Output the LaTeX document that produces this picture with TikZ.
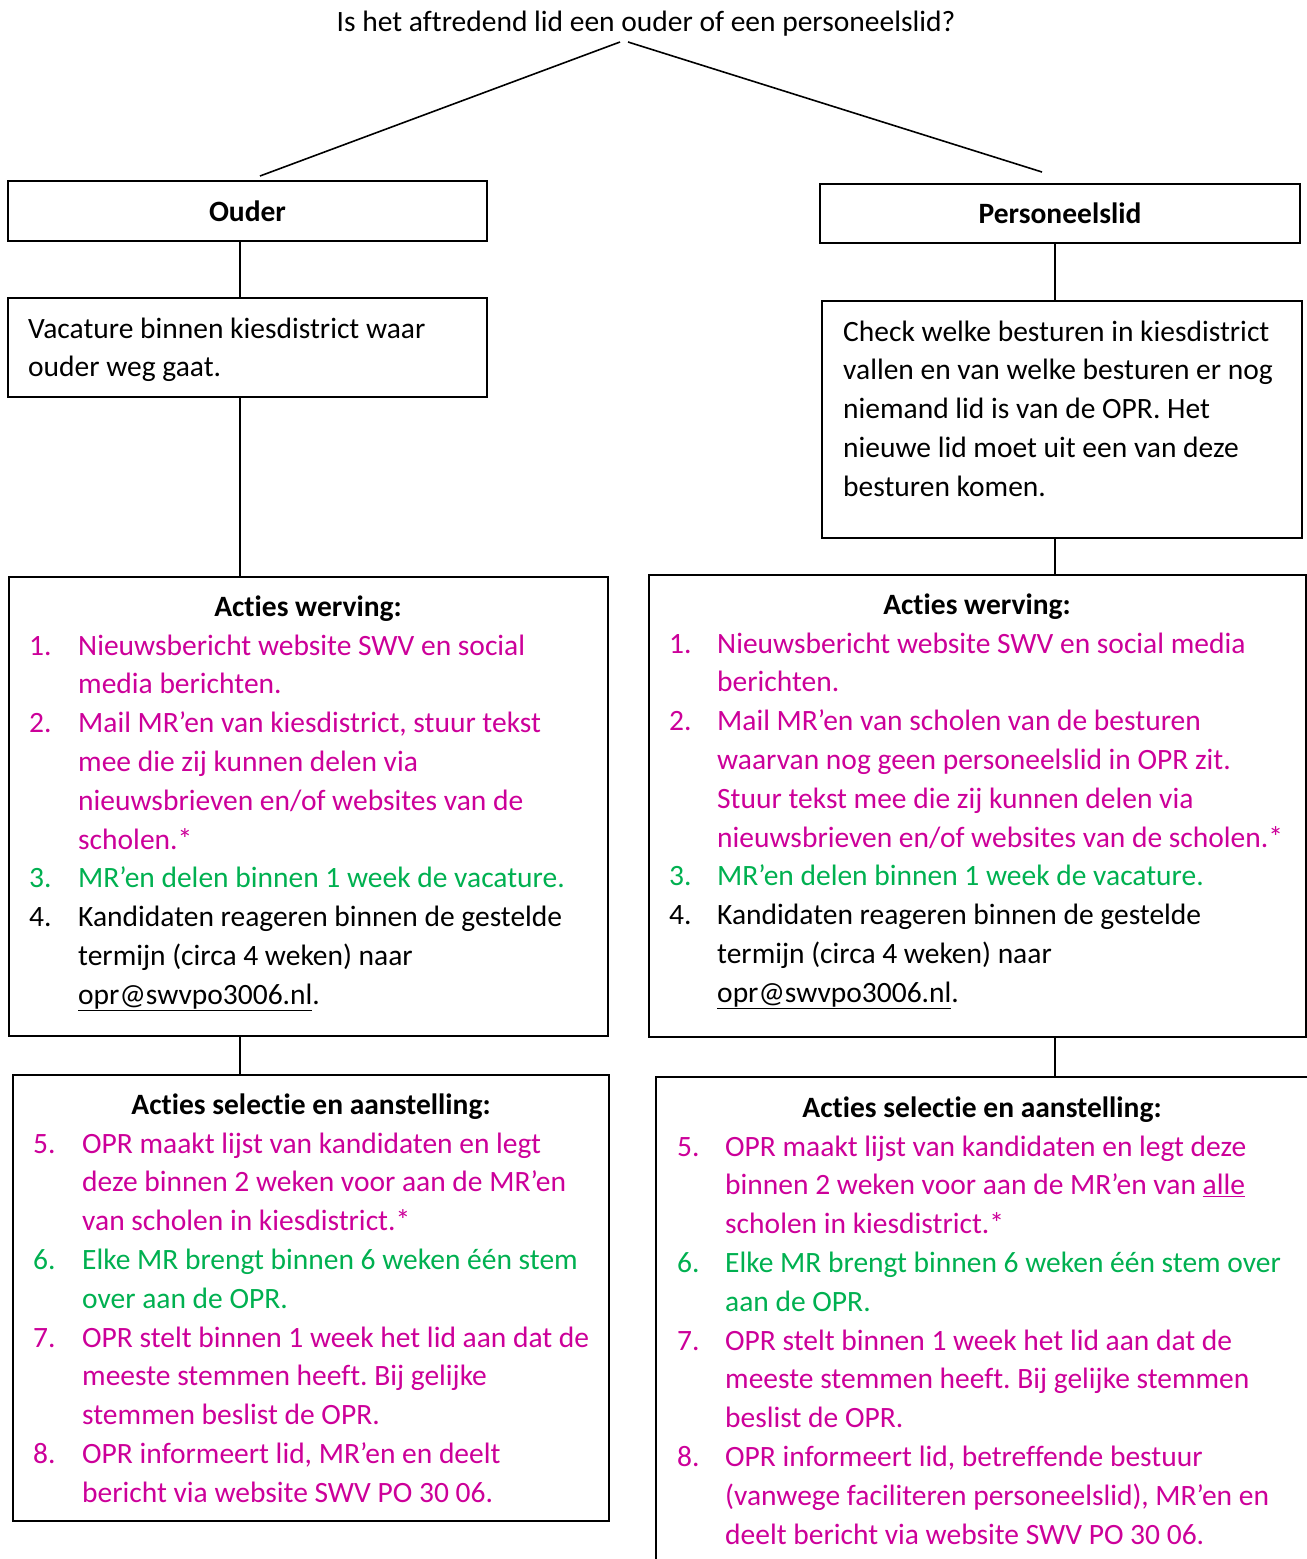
\documentclass[tikz,border=0pt]{standalone}
\usepackage{fontspec}
\setmainfont{Carlito}[Ligatures=CommonOff]
\frenchspacing
\definecolor{pinkc}{RGB}{204,0,153}
\definecolor{greenc}{RGB}{0,176,80}
\tikzset{
  box/.style={draw=black,line width=2pt,inner sep=0pt,minimum width=#1},
  txt/.style={anchor=base west,inner sep=0pt,font=\fontsize{29.5}{38.8}\selectfont},
  head/.style={anchor=base,inner sep=0pt,font=\fontsize{29.5}{38.8}\selectfont\bfseries},
  conn/.style={draw=black,line width=1.6pt}
}
\newcommand\mylines[5]{%
  \foreach \t [count=\i from 0] in {#5}{\node[txt,text=#2] (#1-\i) at (#3,{#4+\i*38.8}) {\frenchspacing\t};}}
\begin{document}
\begin{tikzpicture}[x=1pt,y=-1pt]
\useasboundingbox (0,0) rectangle (1307,1559);
\clip (0,0) rectangle (1307,1559);
% title
\node[anchor=base,inner sep=0pt,font=\fontsize{29.5}{38.8}\selectfont] (title) at (646,31) {Is het aftredend lid een ouder of een personeelslid?};
\coordinate (qL) at (620,42);
\coordinate (qR) at (628,42);
\coordinate (eL) at (260,176);
\coordinate (eR) at (1042,172);
\coordinate (xL) at (240,0);
\coordinate (xR) at (1055,0);
% boxes
\node[box=479pt,minimum height=60pt] (ouder) at (247.5,211) {};
\node[box=480pt,minimum height=59pt] (pers) at (1060,213.5) {};
\node[box=479pt,minimum height=99pt] (vac) at (247.5,347.5) {};
\node[box=480pt,minimum height=237pt] (check) at (1062,419.5) {};
\node[box=599pt,minimum height=459pt] (wervL) at (308.5,806.5) {};
\node[box=657pt,minimum height=462pt] (wervR) at (977.5,806) {};
\node[box=596pt,minimum height=446pt] (selL) at (311,1298) {};
\node[box=664pt,minimum height=523pt] (selR) at (988,1338.5) {};
% connectors
\draw[conn] (qL) -- (eL);
\draw[conn] (qR) -- (eR);
\draw[conn] (ouder.south -| xL) -- (vac.north -| xL);
\draw[conn] (vac.south -| xL) -- (wervL.north -| xL);
\draw[conn] (wervL.south -| xL) -- (selL.north -| xL);
\draw[conn] (pers.south -| xR) -- (check.north -| xR);
\draw[conn] (check.south -| xR) -- (wervR.north -| xR);
\draw[conn] (wervR.south -| xR) -- (selR.north -| xR);
% box texts
\node[head] (ouderT) at (247.5,221) {Ouder};
\node[head] (persT) at (1060,223) {Personeelslid};
\mylines{vacT}{black}{28}{338}{Vacature binnen kiesdistrict waar, ouder weg gaat.}
\mylines{checkT}{black}{843}{341}{Check welke besturen in kiesdistrict, vallen en van welke besturen er nog, niemand lid is van de OPR. Het, nieuwe lid moet uit een van deze, besturen komen.}
% left werving
\node[head] (wLh) at (308,616) {Acties werving:};
\node[txt,text=pinkc] (wL1) at (29,655) {1.};
\mylines{wL1t}{pinkc}{78}{655}{Nieuwsbericht website SWV en social, media berichten.}
\node[txt,text=pinkc] (wL2) at (29,732.6) {2.};
\mylines{wL2t}{pinkc}{78}{732.6}{{Mail MR’en van kiesdistrict, stuur tekst}, mee die zij kunnen delen via, nieuwsbrieven en/of websites van de, scholen.*}
\node[txt,text=greenc] (wL3) at (29,887.8) {3.};
\mylines{wL3t}{greenc}{78}{887.8}{MR’en delen binnen 1 week de vacature.}
\node[txt,text=black] (wL4) at (29,926.6) {4.};
\mylines{wL4t}{black}{78}{926.6}{Kandidaten reageren binnen de gestelde, termijn (circa 4 weken) naar, \underline{opr@swvpo3006.nl}.}
% right werving
\node[head] (wRh) at (977,614) {Acties werving:};
\node[txt,text=pinkc] (wR1) at (669,653) {1.};
\mylines{wR1t}{pinkc}{717}{653}{Nieuwsbericht website SWV en social media, berichten.}
\node[txt,text=pinkc] (wR2) at (669,730.6) {2.};
\mylines{wR2t}{pinkc}{717}{730.6}{Mail MR’en van scholen van de besturen, waarvan nog geen personeelslid in OPR zit., Stuur tekst mee die zij kunnen delen via, nieuwsbrieven en/of websites van de scholen.*}
\node[txt,text=greenc] (wR3) at (669,885.8) {3.};
\mylines{wR3t}{greenc}{717}{885.8}{MR’en delen binnen 1 week de vacature.}
\node[txt,text=black] (wR4) at (669,924.6) {4.};
\mylines{wR4t}{black}{717}{924.6}{Kandidaten reageren binnen de gestelde, termijn (circa 4 weken) naar, \underline{opr@swvpo3006.nl}.}
% left selectie
\node[head] (sLh) at (311,1114) {Acties selectie en aanstelling:};
\node[txt,text=pinkc] (sL5) at (33,1153) {5.};
\mylines{sL5t}{pinkc}{82}{1153}{OPR maakt lijst van kandidaten en legt, deze binnen 2 weken voor aan de MR’en, van scholen in kiesdistrict.*}
\node[txt,text=greenc] (sL6) at (33,1269.4) {6.};
\mylines{sL6t}{greenc}{82}{1269.4}{Elke MR brengt binnen 6 weken één stem, over aan de OPR.}
\node[txt,text=pinkc] (sL7) at (33,1347) {7.};
\mylines{sL7t}{pinkc}{82}{1347}{OPR stelt binnen 1 week het lid aan dat de, meeste stemmen heeft. Bij gelijke, stemmen beslist de OPR.}
\node[txt,text=pinkc] (sL8) at (33,1463.4) {8.};
\mylines{sL8t}{pinkc}{82}{1463.4}{{OPR informeert lid, MR’en en deelt}, bericht via website SWV PO 30 06.}
% right selectie
\node[head] (sRh) at (982,1117) {Acties selectie en aanstelling:};
\node[txt,text=pinkc] (sR5) at (677,1156) {5.};
\mylines{sR5t}{pinkc}{725}{1156}{OPR maakt lijst van kandidaten en legt deze, binnen 2 weken voor aan de MR’en van \underline{alle}, scholen in kiesdistrict.*}
\node[txt,text=greenc] (sR6) at (677,1272.4) {6.};
\mylines{sR6t}{greenc}{725}{1272.4}{Elke MR brengt binnen 6 weken één stem over, aan de OPR.}
\node[txt,text=pinkc] (sR7) at (677,1350) {7.};
\mylines{sR7t}{pinkc}{725}{1350}{OPR stelt binnen 1 week het lid aan dat de, meeste stemmen heeft. Bij gelijke stemmen, beslist de OPR.}
\node[txt,text=pinkc] (sR8) at (677,1466.4) {8.};
\mylines{sR8t}{pinkc}{725}{1466.4}{{OPR informeert lid, betreffende bestuur}, {(vanwege faciliteren personeelslid), MR’en en}, deelt bericht via website SWV PO 30 06.}
\end{tikzpicture}
\end{document}
